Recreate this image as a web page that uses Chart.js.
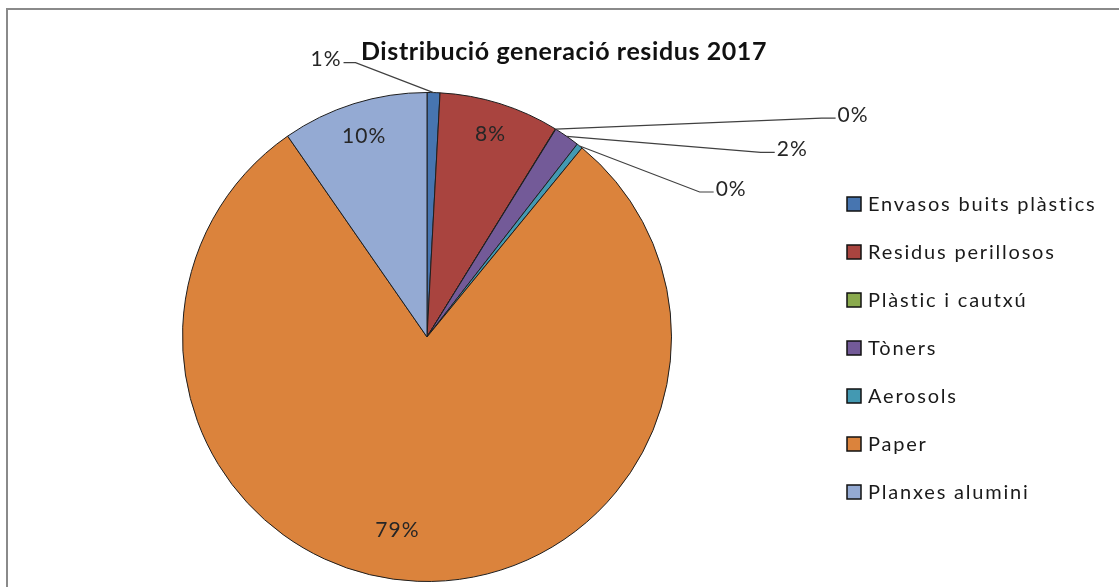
<!DOCTYPE html>
<html>
<head>
<meta charset="utf-8">
<script src="https://cdn.jsdelivr.net/npm/chart.js@4"></script>
<style>
  body { margin: 0; background: #fff; overflow: hidden; }
  #frame { position: absolute; left: 6px; top: 8px; width: 1300px; height: 800px;
           border-top: 2px solid #8a8a8a; border-left: 2px solid #8a8a8a; }
  #c { position: absolute; left: 0; top: 0; }
</style>
</head>
<body>
<div id="frame"></div>
<canvas id="c" width="1119" height="587"></canvas>
<script>
// data (percent of total)
const labels = ["Envasos buits plàstics", "Residus perillosos", "Plàstic i cautxú", "Tòners", "Aerosols", "Paper", "Planxes alumini"];
const values = [0.85, 7.95, 0.03, 1.7, 0.4, 79.4, 9.65];
const colors = ["#4775b0", "#a9443f", "#8aaa4d", "#735a98", "#4399b2", "#db833c", "#94aad3"];
const title = "Distribució generació residus 2017";

// how each label is placed: inside (radius factor, angle shift in degrees) or outside with a leader line
const labelPlace = [
  { out: true, dx: -90, dy: -30, side: "left" },
  { r: 0.87, da: 0 },
  { out: true, dx: 280, dy: -11, side: "right" },
  { out: true, dx: 208, dy: 16, side: "right" },
  { out: true, dx: 134, dy: 46, side: "right" },
  { r: 0.80, da: 6.4 },
  { r: 0.86, da: 0 }
];

const labelFont = "21px Lato, 'Open Sans', sans-serif";

const extras = {
  id: "extras",
  afterDatasetsDraw(chart) {
    const ctx = chart.ctx;
    const meta = chart.getDatasetMeta(0);
    const total = values.reduce((a, b) => a + b, 0);
    ctx.save();
    ctx.font = labelFont;
    ctx.letterSpacing = "1px";
    ctx.fillStyle = "#262626";
    ctx.textBaseline = "middle";
    meta.data.forEach((arc, i) => {
      const pct = Math.round(values[i] / total * 100) + "%";
      const mid = (arc.startAngle + arc.endAngle) / 2;
      const p = labelPlace[i];
      if (!p.out) {
        const d = arc.outerRadius * p.r;
        const a = mid + p.da * Math.PI / 180;
        ctx.textAlign = "center";
        ctx.fillText(pct, arc.x + Math.cos(a) * d, arc.y + Math.sin(a) * d);
        return;
      }
      const ax = arc.x + Math.cos(mid) * arc.outerRadius;
      const ay = arc.y + Math.sin(mid) * arc.outerRadius;
      const ex = ax + p.dx, ey = ay + p.dy;
      const hx = p.side === "right" ? ex - 14 : ex + 12;
      ctx.strokeStyle = "#404040";
      ctx.lineWidth = 1.2;
      ctx.beginPath();
      ctx.moveTo(ax, ay);
      ctx.lineTo(hx, ey);
      ctx.lineTo(ex, ey);
      ctx.stroke();
      ctx.textAlign = p.side === "right" ? "left" : "right";
      ctx.fillText(pct, p.side === "right" ? ex + 2 : ex - 2, ey - 3);
    });

    // title
    ctx.font = "bold 25px Lato, 'Open Sans', sans-serif";
    ctx.letterSpacing = "0.6px";
    ctx.fillStyle = "#111";
    ctx.textAlign = "center";
    ctx.fillText(title, 564, 52);

    // legend
    ctx.font = "20px Lato, 'Open Sans', sans-serif";
    ctx.letterSpacing = "1.8px";
    ctx.textAlign = "left";
    labels.forEach((lab, i) => {
      const cy = 204 + i * 48;
      ctx.fillStyle = colors[i];
      ctx.fillRect(847, cy - 7, 14, 14);
      ctx.strokeStyle = "#111";
      ctx.lineWidth = 1.5;
      ctx.strokeRect(847, cy - 7, 14, 14);
      ctx.fillStyle = "#1a1a1a";
      ctx.fillText(lab, 868, cy + 1);
    });
    ctx.restore();
  }
};

new Chart(document.getElementById("c"), {
  type: "pie",
  data: {
    labels: labels,
    datasets: [{
      data: values,
      backgroundColor: colors,
      borderColor: "#1e1e1e",
      borderWidth: 1
    }]
  },
  options: {
    responsive: false,
    animation: false,
    layout: { padding: { left: 182, right: 447, top: 92, bottom: 5 } },
    plugins: {
      legend: { display: false },
      tooltip: { enabled: false },
      title: { display: false }
    }
  },
  plugins: [extras]
});
</script>
</body>
</html>
